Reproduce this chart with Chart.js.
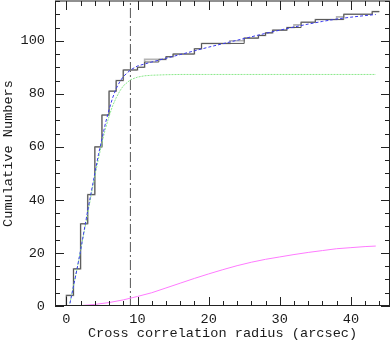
<!DOCTYPE html>
<html>
<head>
<meta charset="utf-8">
<script src="https://cdn.jsdelivr.net/npm/chart.js@4/dist/chart.umd.min.js"></script>
<style>
    html, body { margin: 0; padding: 0; background: #fff; }
    canvas { display: block; }
</style>
</head>
<body>
<canvas id="chart" width="391" height="345"></canvas>
<script>
// cumulative counts (step histograms), value reached at each radius
const darkX = [0, 0, 1, 2, 3, 4, 5, 6, 7, 8, 10, 11, 13, 14, 15, 18, 19, 25, 27, 28, 29, 31, 33, 35, 39, 43, 44];
const darkY = [0, 4, 14, 31, 42, 60, 72, 81, 85, 89, 90, 92, 93, 94, 95, 97, 99, 101, 102, 103, 104, 105, 107, 108, 110, 111, 111];
const grayX = [0, 0, 1, 2, 3, 4, 5, 6, 7, 8, 10, 11, 13, 14, 15, 18, 19, 23, 25, 27, 28, 29, 31, 32, 33, 35, 38, 39, 43, 44];
const grayY = [0, 4, 14, 31, 42, 60, 72, 81, 85, 89, 90, 93, 93, 94, 95, 97, 99, 100, 101, 102, 103, 104, 105, 106, 107, 108, 109, 110, 111, 111];

// fitted curves
const totalX = [0.5, 1, 1.5, 2, 2.5, 3, 3.5, 4, 4.5, 5, 5.5, 6, 6.5, 7, 7.5, 8, 9, 10, 12, 14, 16, 18, 20, 22, 24, 26, 28, 30, 32, 34, 36, 38, 40, 42, 43.5];
const totalY = [1, 7.5, 14, 21, 28.5, 36, 43, 50, 57, 63, 69, 74, 78.5, 82, 84.5, 86.5, 89, 90.5, 92.0, 93.4, 94.8, 96.2, 97.6, 98.9, 100.2, 101.5, 102.8, 104.0, 105.2, 106.3, 107.3, 108.2, 108.9, 109.5, 109.9];
const realX = [0.5, 1, 1.5, 2, 2.5, 3, 3.5, 4, 4.5, 5, 5.5, 6, 6.5, 7, 7.5, 8, 9, 10, 11, 12, 14, 16, 20, 25, 30, 35, 40, 43.5];
const realY = [1, 7.5, 14, 21, 28, 35, 42, 49, 55.5, 61.5, 67, 71.5, 75.5, 78.5, 81, 83, 85.3, 86.3, 86.8, 87.0, 87.2, 87.3, 87.3, 87.3, 87.3, 87.3, 87.3, 87.3];
const bgX = [0, 2, 4, 6, 8, 10, 12, 14, 16, 18, 20, 22, 24, 26, 28, 30, 32, 34, 36, 38, 40, 42, 43.5];
const bgY = [0, 0.15, 0.6, 1.3, 2.3, 3.6, 5.0, 6.8, 8.6, 10.4, 12.1, 13.7, 15.2, 16.5, 17.6, 18.5, 19.4, 20.2, 20.9, 21.6, 22.0, 22.4, 22.6];

// cut radius marker
const cutRadius = 9;

// axes
const xMin = -1.6, xMax = 45.5;
const yMin = 0, yMax = 115;
const xTickLabels = [0, 10, 20, 30, 40];
const yTickLabels = [0, 20, 40, 60, 80, 100];
const xMinorStep = 2, yMinorStep = 5;

const toPoints = (xs, ys) => xs.map((x, i) => ({ x: x, y: ys[i] }));

const inkColor = '#1a1a1a';
const fontFamily = '"Liberation Mono", "Courier New", monospace';
const fontSize = 13.6;

// PGPLOT style frame with ticks drawn inwards on all four sides
const frameTicks = {
    id: 'frameTicks',
    afterDatasetsDraw(chart) {
        const { ctx, chartArea: a, scales: { x, y } } = chart;
        ctx.save();
        ctx.strokeStyle = '#222';
        ctx.lineWidth = 1;
        ctx.strokeRect(a.left + 0.5, a.top, a.right - a.left - 1, a.bottom - a.top - 0.5);
        ctx.beginPath();
        for (let v = 0; v <= xMax; v += xMinorStep) {
            const px = Math.round(x.getPixelForValue(v)) + 0.5;
            const len = xTickLabels.includes(v) ? 9 : 5;
            ctx.moveTo(px, a.bottom); ctx.lineTo(px, a.bottom - len);
            ctx.moveTo(px, a.top); ctx.lineTo(px, a.top + len);
        }
        for (let v = yMin; v <= yMax; v += yMinorStep) {
            const py = Math.round(y.getPixelForValue(v)) + 0.5;
            const len = yTickLabels.includes(v) ? 9 : 5;
            ctx.moveTo(a.left, py); ctx.lineTo(a.left + len, py);
            ctx.moveTo(a.right, py); ctx.lineTo(a.right - len, py);
        }
        ctx.stroke();
        ctx.restore();
    }
};

const ctx = document.getElementById('chart').getContext('2d');
new Chart(ctx, {
    type: 'line',
    data: {
        datasets: [
            {
                label: 'Total fit',
                data: toPoints(totalX, totalY),
                borderColor: '#3a3aee',
                borderWidth: 1,
                borderDash: [3, 2],
                pointRadius: 0,
                fill: false
            },
            {
                label: 'Real matches',
                data: toPoints(realX, realY),
                borderColor: '#8be88b',
                borderWidth: 1,
                borderDash: [2, 1],
                pointRadius: 0,
                fill: false
            },
            {
                label: 'Cumulative',
                data: toPoints(darkX, darkY),
                borderColor: '#555',
                borderWidth: 1,
                stepped: true,
                pointRadius: 0,
                fill: false
            },
            {
                label: 'Cumulative (alt)',
                data: toPoints(grayX, grayY),
                borderColor: '#b4b4b4',
                borderWidth: 1.6,
                stepped: true,
                pointRadius: 0,
                fill: false
            },
            {
                label: 'Random matches',
                data: toPoints(bgX, bgY),
                borderColor: '#ff7aff',
                borderWidth: 1,
                pointRadius: 0,
                fill: false
            },
            {
                label: 'Cut',
                data: [{ x: cutRadius, y: yMin }, { x: cutRadius, y: yMax }],
                borderColor: '#555',
                borderWidth: 1,
                borderDash: [10, 3, 2, 3],
                pointRadius: 0,
                fill: false
            }
        ]
    },
    options: {
        responsive: false,
        animation: false,
        devicePixelRatio: 1,
        layout: { padding: { top: 1, right: 1, left: 0, bottom: 0 } },
        plugins: {
            legend: { display: false },
            tooltip: { enabled: false }
        },
        scales: {
            x: {
                type: 'linear',
                min: xMin,
                max: xMax,
                afterBuildTicks: s => { s.ticks = xTickLabels.map(v => ({ value: v })); },
                afterFit: s => { s.height = 39; s.paddingLeft = 0; s.paddingRight = 0; },
                grid: { display: false, drawTicks: false },
                border: { display: false },
                ticks: {
                    padding: 5,
                    color: inkColor,
                    font: { family: fontFamily, size: fontSize },
                    maxRotation: 0
                },
                title: {
                    display: true,
                    text: 'Cross correlation radius (arcsec)',
                    color: inkColor,
                    font: { family: fontFamily, size: fontSize },
                    padding: { top: 0, bottom: 3 }
                }
            },
            y: {
                type: 'linear',
                min: yMin,
                max: yMax,
                afterBuildTicks: s => { s.ticks = yTickLabels.map(v => ({ value: v })); },
                afterFit: s => { s.width = 55; s.paddingTop = 0; s.paddingBottom = 0; },
                grid: { display: false, drawTicks: false },
                border: { display: false },
                ticks: {
                    padding: 10,
                    color: inkColor,
                    font: { family: fontFamily, size: fontSize }
                },
                title: {
                    display: true,
                    text: 'Cumulative Numbers',
                    color: inkColor,
                    font: { family: fontFamily, size: fontSize },
                    padding: { top: 0, bottom: 0 }
                }
            }
        }
    },
    plugins: [frameTicks]
});
</script>
</body>
</html>
